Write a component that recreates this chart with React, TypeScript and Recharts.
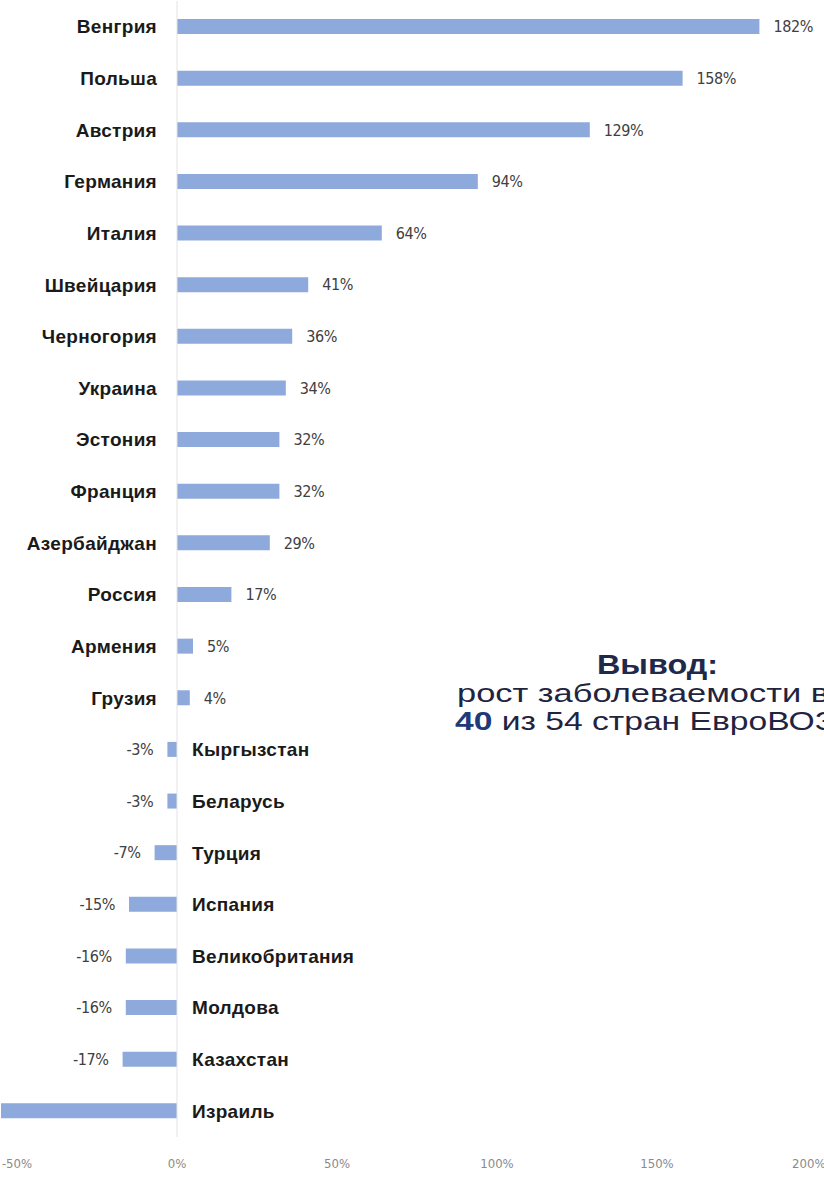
import React from "react";
import { Bar, BarChart, LabelList, ReferenceLine, XAxis, YAxis } from "recharts";

const countries = [
  "Венгрия", "Польша", "Австрия", "Германия", "Италия", "Швейцария", "Черногория",
  "Украина", "Эстония", "Франция", "Азербайджан", "Россия", "Армения", "Грузия",
  "Кыргызстан", "Беларусь", "Турция", "Испания", "Великобритания", "Молдова",
  "Казахстан", "Израиль",
];
const growth = [182, 158, 129, 94, 64, 41, 36, 34, 32, 32, 29, 17, 5, 4, -3, -3, -7, -15, -16, -16, -17, -60];
// Israel's bar runs off the left edge and has no printed value
const shownLabels = ["182%", "158%", "129%", "94%", "64%", "41%", "36%", "34%", "32%", "32%", "29%", "17%", "5%", "4%", "-3%", "-3%", "-7%", "-15%", "-16%", "-16%", "-17%", ""];
const xTicks = [-50, 0, 50, 100, 150, 200];

const data = countries.map((name, i) => ({ name, value: growth[i], label: shownLabels[i] }));

const narrow = "'Liberation Sans Narrow', 'DejaVu Sans Condensed', 'Arial Narrow', sans-serif";
const bold = "'Liberation Sans', Arial, sans-serif";

function ends(p: any) {
  const a = Number(p.x), b = Number(p.x) + Number(p.width);
  return { left: Math.min(a, b), right: Math.max(a, b), cy: Number(p.y) + Number(p.height) / 2 };
}

const NameLabel = (p: any) => {
  const d = data[p.index];
  if (!d) return null;
  const { left, right, cy } = ends(p);
  const pos = d.value >= 0;
  return (
    <text x={pos ? left - 20 : right + 15} y={cy} dy="0.36em" textAnchor={pos ? "end" : "start"}
      fontFamily={bold} fontWeight="bold" fontSize={19} letterSpacing={0.3} fill="#1a1a1a">
      {d.name}
    </text>
  );
};

const ValueLabel = (p: any) => {
  const d = data[p.index];
  if (!d || !d.label) return null;
  const { left, right, cy } = ends(p);
  const pos = d.value >= 0;
  return (
    <text x={pos ? right + 14 : left - 14} y={cy} dy="0.36em" textAnchor={pos ? "start" : "end"}
      fontFamily={narrow} fontSize={16} letterSpacing={-0.4} fill="#404040">
      {d.label}
    </text>
  );
};

export default function App() {
  return (
    <div style={{ position: "absolute", left: 0, top: 0, width: 824, height: 1181, background: "#fff", overflow: "hidden" }}>
      <BarChart width={824} height={1181} data={data} layout="vertical"
        margin={{ top: 1, right: 7, left: 1, bottom: 0 }} barCategoryGap={0}>
        <XAxis type="number" domain={[-55, 200]} ticks={xTicks} allowDataOverflow
          tickFormatter={(v: number) => `${v}%`} axisLine={false} tickLine={false}
          tickSize={0} tickMargin={22} height={44}
          tick={{ fontFamily: narrow, fontSize: 13, fill: "#8a8a8a" }} />
        <YAxis type="category" dataKey="name" hide />
        <ReferenceLine x={0} stroke="#e3e3e3" strokeWidth={1} />
        <Bar dataKey="value" fill="#8EA9DB" barSize={15} isAnimationActive={false}>
          <LabelList dataKey="name" content={NameLabel} />
          <LabelList dataKey="label" content={ValueLabel} />
        </Bar>
      </BarChart>
      <svg width={824} height={1181} style={{ position: "absolute", left: 0, top: 0, pointerEvents: "none" }}>
        <text x={597} y={674} textLength={121} lengthAdjust="spacingAndGlyphs"
          fontFamily={bold} fontWeight="bold" fontSize={27} fill="#1f2a4a">Вывод:</text>
        <text x={457} y={702} textLength={372} lengthAdjust="spacingAndGlyphs"
          fontFamily={bold} fontSize={25} fill="#1f2440">рост заболеваемости в</text>
        <text x={455} y={730} textLength={380} lengthAdjust="spacingAndGlyphs"
          fontFamily={bold} fontSize={25} fill="#1f2440">
          <tspan fontWeight="bold" fill="#1f3a7a">40</tspan> из 54 стран ЕвроВОЗ
        </text>
      </svg>
    </div>
  );
}
